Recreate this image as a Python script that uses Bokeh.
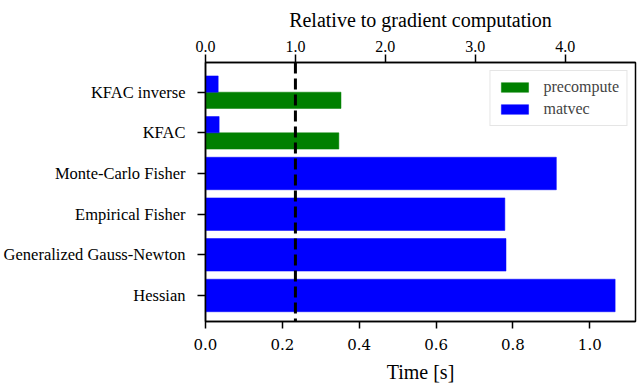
from bokeh.plotting import figure
from bokeh.models import (Range1d, LinearAxis, FixedTicker, Span, Legend, LegendItem,
                          ColumnDataSource, NumeralTickFormatter)
from bokeh.embed import file_html
from bokeh.resources import INLINE

methods = ["Hessian", "Generalized Gauss-Newton", "Empirical Fisher",
           "Monte-Carlo Fisher", "KFAC", "KFAC inverse"]
matvec = [1.066, 0.782, 0.779, 0.913, 0.0355, 0.033]
precompute = [0.0, 0.0, 0.0, 0.0, 0.347, 0.3526]
gradient_time = 0.234
bottom_ticks = [0.0, 0.2, 0.4, 0.6, 0.8, 1.0]
top_ticks = [0.0, 1.0, 2.0, 3.0, 4.0]

SERIF = "Liberation Serif"
xmax = 1.119

# bar layout
mv_y, mv_h, pc_y, pc_h, pc_w = [], [], [], [], []
for i, (m, pc) in enumerate(zip(matvec, precompute)):
    if pc > 0:
        mv_y.append(i + 0.2); mv_h.append(0.4)
        pc_y.append(i - 0.2); pc_h.append(0.4); pc_w.append(pc)
    else:
        mv_y.append(i); mv_h.append(0.8)

mv_src = ColumnDataSource(dict(y=mv_y, right=matvec, h=mv_h))
pc_src = ColumnDataSource(dict(y=pc_y, right=pc_w, h=pc_h))

p = figure(width=637, height=388, output_backend="svg", toolbar_location=None,
           x_range=Range1d(0, xmax), y_range=Range1d(-0.64, 5.73),
           min_border_left=205, min_border_right=2, min_border_top=62,
           min_border_bottom=67)
p.grid.visible = False
p.outline_line_color = "black"
p.outline_line_width = 1.5

r_pc = p.hbar(y="y", left=0, right="right", height="h", source=pc_src,
              fill_color="#008000", line_color="#008000", line_width=0.5)
r_mv = p.hbar(y="y", left=0, right="right", height="h", source=mv_src,
              fill_color="#0000ff", line_color="#0000ff", line_width=0.5)

p.add_layout(Span(location=gradient_time, dimension="height", line_color="black",
                  line_width=3, line_dash="11 5"))

bx = p.below[0]
ly = p.left[0]

p.extra_x_ranges = {"rel": Range1d(0, xmax / gradient_time)}
top = LinearAxis(x_range_name="rel", axis_label="Relative to gradient computation")
p.add_layout(top, "above")

for ax in [bx, ly, top]:
    ax.axis_line_width = 1.5
    ax.major_tick_line_width = 1.5
    ax.major_tick_out = 8
    ax.major_tick_in = 0
    ax.minor_tick_out = 0
    ax.minor_tick_in = 0
    ax.major_label_text_color = "black"
    ax.axis_label_text_font = SERIF
    ax.axis_label_text_font_style = "normal"
    ax.axis_label_text_font_size = "20px"
    ax.axis_label_text_color = "black"

bx.ticker = FixedTicker(ticks=bottom_ticks)
bx.formatter = NumeralTickFormatter(format="0.0")
bx.major_label_text_font = "DejaVu Serif"
bx.major_label_text_font_size = "15px"
bx.axis_label = "Time [s]"
bx.major_tick_out = 7
bx.major_label_standoff = 10
bx.axis_label_standoff = 8

top.ticker = FixedTicker(ticks=top_ticks)
top.formatter = NumeralTickFormatter(format="0.0")
top.major_label_text_font = SERIF
top.major_label_text_font_size = "16px"
top.major_label_standoff = 3
top.axis_label_standoff = 7

ly.ticker = FixedTicker(ticks=list(range(len(methods))))
ly.major_label_overrides = {i: m for i, m in enumerate(methods)}
ly.major_label_text_font = SERIF
ly.major_label_text_font_size = "16.5px"
ly.major_label_standoff = 12

legend = Legend(items=[LegendItem(label="precompute", renderers=[r_pc]),
                       LegendItem(label="matvec", renderers=[r_mv])],
                location="top_right", margin=8, padding=7, spacing=4,
                glyph_width=34, glyph_height=12, label_standoff=12,
                label_text_font=SERIF, label_text_font_size="16px",
                border_line_color="#cccccc", border_line_width=1.5,
                background_fill_alpha=0.8)
p.add_layout(legend)

open("out.html", "w").write(file_html(p, INLINE))
